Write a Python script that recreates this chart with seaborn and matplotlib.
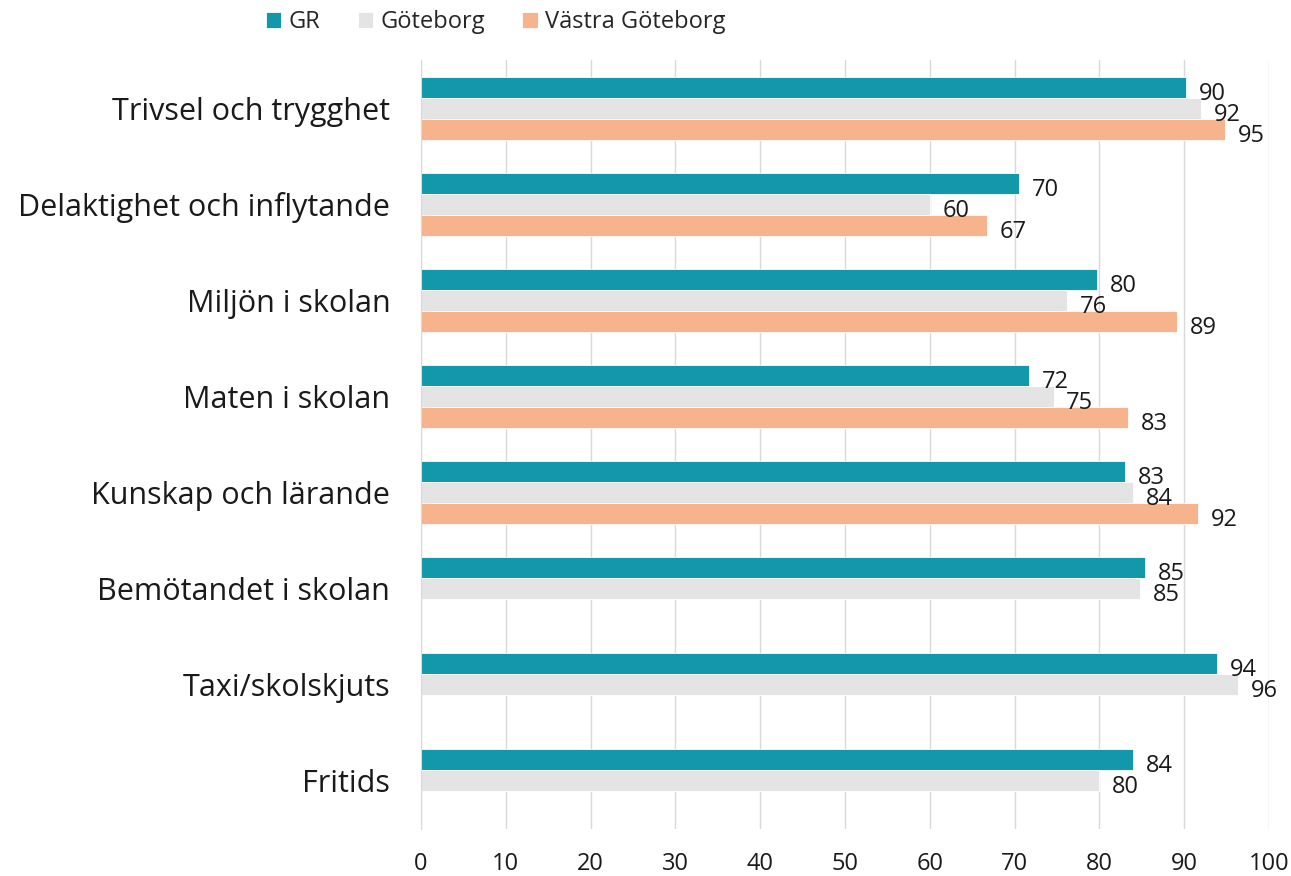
import numpy as np
import pandas as pd
import matplotlib
matplotlib.use("Agg")
import matplotlib.pyplot as plt
import seaborn as sns

# Kategorier och värden
kategorier = ["Trivsel och trygghet", "Delaktighet och inflytande", "Miljön i skolan",
              "Maten i skolan", "Kunskap och lärande", "Bemötandet i skolan",
              "Taxi/skolskjuts", "Fritids"]
serier = ["GR", "Göteborg", "Västra Göteborg"]
gr = [90.2, 70.5, 79.7, 71.7, 83.0, 85.4, 93.9, 84.0]
goteborg = [92.0, 60.0, 76.2, 74.6, 84.0, 84.8, 96.3, 80.0]
vastra = [94.8, 66.7, 89.2, 83.4, 91.6, np.nan, np.nan, np.nan]
farger = ["#1298AA", "#E4E4E4", "#F7B48C"]

df = pd.DataFrame({
    "kategori": kategorier * 3,
    "serie": [s for s in serier for _ in kategorier],
    "varde": gr + goteborg + vastra,
})

sns.set_style("white")
plt.rcParams["font.family"] = ["Open Sans", "DejaVu Sans"]

fig, ax = plt.subplots(figsize=(12.91, 8.76), dpi=100)
fig.subplots_adjust(left=0.326, right=0.983, top=0.931, bottom=0.054)

sns.barplot(data=df, x="varde", y="kategori", hue="serie", order=kategorier,
            hue_order=serier, palette=farger, saturation=1, orient="h", width=0.66,
            edgecolor="white", linewidth=0.6, ax=ax, legend=True)

# värdeetiketter
for container, vals in zip(ax.containers, [gr, goteborg, vastra]):
    for bar, v in zip(container, vals):
        if np.isnan(v):
            continue
        ax.text(bar.get_width() + 1.5, bar.get_y() + bar.get_height() / 2 + 0.07,
                f"{v:.0f}", va="center", ha="left", fontsize=17, color="#1a1a1a")

ax.set_xlim(0, 100)
ax.set_ylim(len(kategorier) - 0.5, -0.5)
ax.set_xticks(range(0, 101, 10))
ax.xaxis.grid(True, color="#D9D9D9", linewidth=1)
ax.set_axisbelow(True)
ax.set_xlabel("")
ax.set_ylabel("")
for s in ["top", "right", "bottom"]:
    ax.spines[s].set_visible(False)
ax.spines["left"].set_color("#D9D9D9")
ax.tick_params(axis="x", length=0, labelsize=17, pad=17, colors="#1a1a1a")
ax.tick_params(axis="y", which="major", length=0, labelsize=22, pad=22, colors="#1a1a1a")
ax.set_yticks(np.arange(-0.5, len(kategorier), 1.0), minor=True)
ax.tick_params(axis="y", which="minor", length=9, color="#D9D9D9", width=1)

leg = ax.legend(loc="upper center", bbox_to_anchor=(0.088, 1.093), ncol=3, frameon=False,
                fontsize=17, handlelength=0.65, handleheight=0.65, handletextpad=0.3,
                columnspacing=1.6)

fig.savefig("out.png", dpi=100)
